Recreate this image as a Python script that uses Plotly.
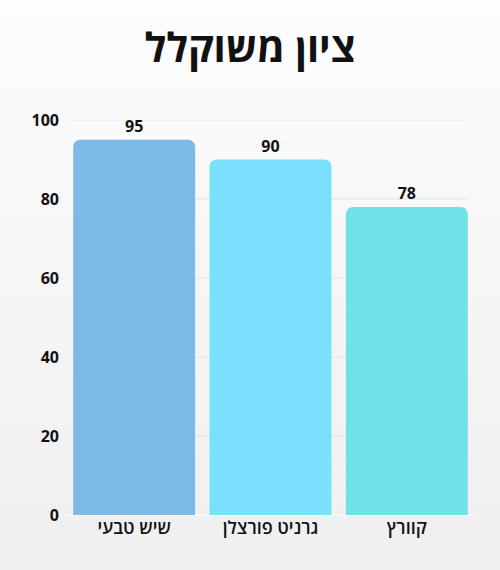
import plotly.graph_objects as go

categories = ["שיש טבעי", "גרניט פורצלן", "קוורץ"]
scores = [95, 90, 78]
bar_colors = ["#7cb9e6", "#7ae0fb", "#6de3e8"]
y_ticks = [0, 20, 40, 60, 80, 100]

fig = go.Figure(go.Bar(
    x=categories,
    y=scores,
    marker=dict(color=bar_colors, line=dict(width=0)),
    text=[str(v) for v in scores],
    textposition="outside",
    textfont=dict(size=16, color="#111111", family="Open Sans", weight="bold"),
    cliponaxis=False,
))

# soft vertical background gradient: white at top, light grey at bottom
shapes = []
n = 40
for i in range(n):
    t = i / (n - 1)
    c = int(round(253 - (253 - 238) * t))
    shapes.append(dict(
        type="rect", xref="paper", yref="paper", layer="below",
        x0=-0.3, x1=1.3, y0=1.35 - (i + 1) * 1.6 / n, y1=1.35 - i * 1.6 / n,
        fillcolor=f"rgb({c},{c},{c})", line=dict(width=0),
    ))

# gridlines inset a little from the plot edges, like the original
for v in y_ticks[1:]:
    shapes.append(dict(
        type="line", xref="paper", yref="y", layer="below",
        x0=0.017, x1=0.98, y0=v, y1=v,
        line=dict(color="#e2e2e2", width=1),
    ))

fig.update_layout(
    width=500, height=570,
    margin=dict(l=66, r=25, t=120, b=55),
    paper_bgcolor="#f6f6f6",
    plot_bgcolor="rgba(0,0,0,0)",
    shapes=shapes,
    bargap=0.106,
    barcornerradius=7,
    showlegend=False,
    title=dict(
        text="ציון משוקלל", x=0.5, xanchor="center", y=0.915, yanchor="middle",
        font=dict(size=40, color="#111111", family="Open Sans", weight="bold"),
    ),
    font=dict(family="Open Sans", color="#111111"),
    xaxis=dict(
        tickfont=dict(size=18, color="#111111", weight=600),
        showgrid=False, showline=False, ticks="",
        automargin=False,
    ),
    yaxis=dict(
        range=[0, 100], tickvals=y_ticks,
        tickfont=dict(size=16, color="#111111", weight="bold"),
        showgrid=False,
        zeroline=True, zerolinecolor="#f8f8f8", zerolinewidth=2,
        ticklabelstandoff=6, automargin=False,
    ),
)

fig.write_html(
    "out.html",
    config={"displayModeBar": False},
    post_script="document.body.style.margin='0';",
)
